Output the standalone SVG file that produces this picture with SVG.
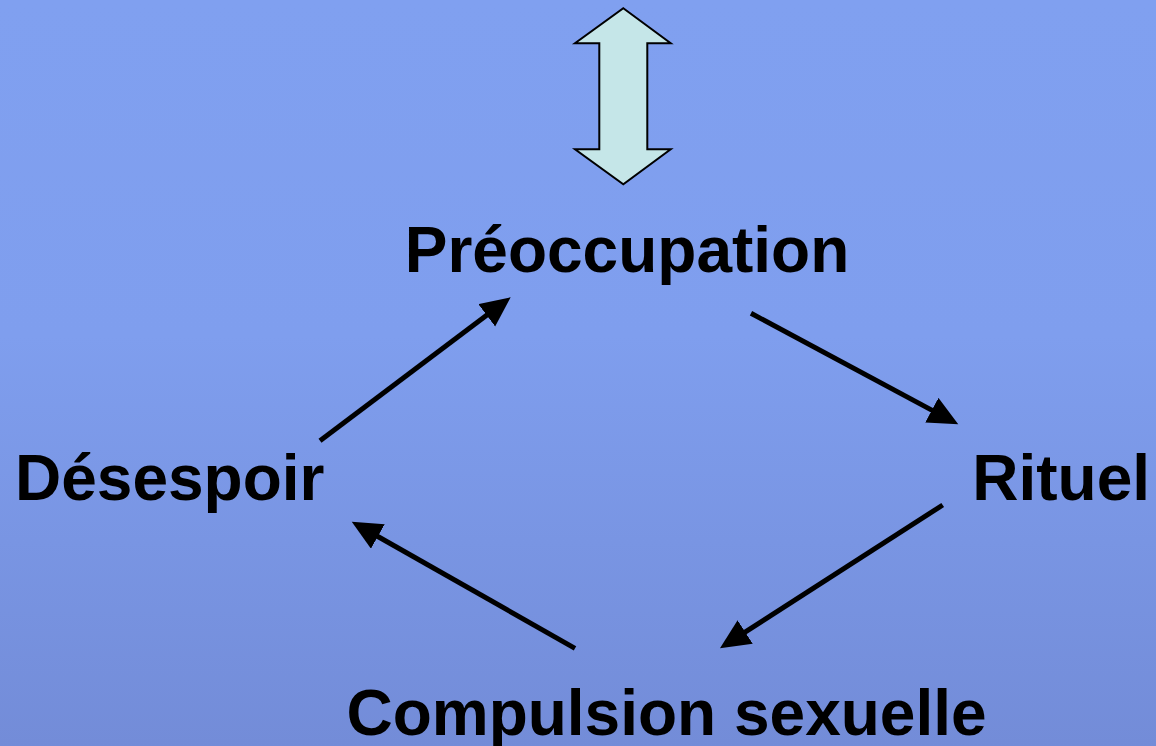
<svg xmlns="http://www.w3.org/2000/svg" width="1156" height="746" viewBox="0 0 1156 746">
  <defs>
    <linearGradient id="bg" x1="0" y1="0" x2="0" y2="1">
      <stop offset="0" stop-color="#80a0f0"/>
      <stop offset="0.45" stop-color="#7f9eee"/>
      <stop offset="1" stop-color="#738cd8"/>
    </linearGradient>
    <marker id="head" markerUnits="userSpaceOnUse" markerWidth="32" markerHeight="30" refX="2" refY="14" orient="auto" viewBox="0 0 32 30">
      <path d="M0,0 L30,14 L0,28 z" fill="#000"/>
    </marker>
    <style>
      .lbl { font-family: "Liberation Sans", Arial, sans-serif; font-weight: bold; font-size: 64px; fill: #000; }
      .conn { stroke: #000; stroke-width: 5; fill: none; marker-end: url(#head); }
    </style>
  </defs>
  <rect x="0" y="0" width="1156" height="746" fill="url(#bg)"/>

  <g id="double-arrow">
    <path d="M623.3,8.3 L670.7,43.3 L647.3,43.3 L647.3,149.3 L670.7,149.3 L623.3,184.3 L575,149.3 L599.3,149.3 L599.3,43.3 L575,43.3 Z" fill="#c5e6e8" stroke="#000" stroke-width="2" stroke-linejoin="miter"/>
  </g>

  <g id="node-preoccupation">
    <text class="lbl" x="627" y="272" text-anchor="middle">Préoccupation</text>
  </g>
  <g id="node-rituel">
    <text class="lbl" x="1150" y="500" text-anchor="end">Rituel</text>
  </g>
  <g id="node-compulsion">
    <text class="lbl" x="666.5" y="735" text-anchor="middle">Compulsion sexuelle</text>
  </g>
  <g id="node-desespoir">
    <text class="lbl" x="15" y="500">Désespoir</text>
  </g>

  <g id="connectors">
    <line class="conn" x1="751" y1="313.3" x2="933.6" y2="411.1"/>
    <line class="conn" x1="942.7" y1="505" x2="743.5" y2="633.1"/>
    <line class="conn" x1="575" y1="648.3" x2="376.1" y2="535.5"/>
    <line class="conn" x1="320" y1="440.7" x2="488.3" y2="314.1"/>
  </g>
</svg>
